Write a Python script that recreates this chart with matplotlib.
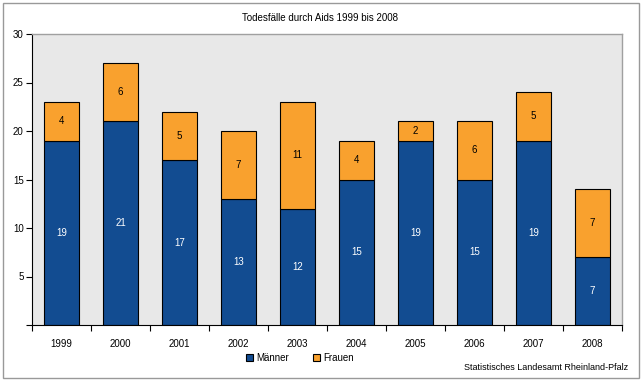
import matplotlib.pyplot as plt
from matplotlib.patches import Rectangle
import numpy as np

years = ['1999', '2000', '2001', '2002', '2003', '2004', '2005', '2006', '2007', '2008']
maenner = [19, 21, 17, 13, 12, 15, 19, 15, 19, 7]
frauen = [4, 6, 5, 7, 11, 4, 2, 6, 5, 7]

blue = '#124c91'
orange = '#f9a12e'

plt.rcParams['font.family'] = ['Liberation Sans', 'DejaVu Sans']

W, H = 642, 381
fig = plt.figure(figsize=(W / 100, H / 100), dpi=100)
ax = fig.add_axes([32 / W, (H - 325) / H, 590 / W, 291 / H])
ax.set_facecolor('#e8e8e8')

x = np.arange(len(years))
bw = 0.59
b1 = ax.bar(x, maenner, bw, color=blue, edgecolor='black', linewidth=0.8, label='Männer')
b2 = ax.bar(x, frauen, bw, bottom=maenner, color=orange, edgecolor='black', linewidth=0.8, label='Frauen')

for i in range(len(years)):
    ax.text(x[i], maenner[i] / 2, str(maenner[i]), ha='center', va='center', color='white', fontsize=7)
    ax.text(x[i], maenner[i] + frauen[i] / 2, str(frauen[i]), ha='center', va='center', color='black', fontsize=7)

ax.set_xlim(-0.5, len(years) - 0.5)
ax.set_ylim(0, 30)
ax.set_yticks([0, 5, 10, 15, 20, 25, 30])
ax.set_yticklabels(['', '5', '10', '15', '20', '25', '30'], fontsize=7)
ax.set_xticks(x)
ax.set_xticklabels(years, fontsize=7)
ax.set_xticks(np.arange(-0.5, len(years)), minor=True)
ax.tick_params(axis='x', which='major', length=0, pad=10)
ax.tick_params(axis='x', which='minor', length=4, width=0.8, direction='out')
ax.tick_params(axis='y', length=4, width=0.8, direction='out', pad=2)

for s in ['top', 'right']:
    ax.spines[s].set_color('#a0a0a0')
    ax.spines[s].set_linewidth(1)
for s in ['left', 'bottom']:
    ax.spines[s].set_color('black')
    ax.spines[s].set_linewidth(0.8)

fig.text(320 / W, 1 - 18 / H, 'Todesfälle durch Aids 1999 bis 2008', ha='center', va='center', fontsize=7)

leg = fig.legend(handles=[b1, b2], loc='center', bbox_to_anchor=(300 / W, 1 - 358 / H), ncol=2,
                 frameon=False, fontsize=7, handlelength=0.7, handleheight=0.7,
                 handletextpad=0.3, columnspacing=2.5)

fig.text(628 / W, 1 - 367 / H, 'Statistisches Landesamt Rheinland-Pfalz', ha='right', va='center', fontsize=6.5)

fig.patches.append(Rectangle((3 / W, 3 / H), 636 / W, 375 / H, transform=fig.transFigure,
                             fill=False, edgecolor='#999999', linewidth=1))

fig.savefig('out.png', dpi=100)
